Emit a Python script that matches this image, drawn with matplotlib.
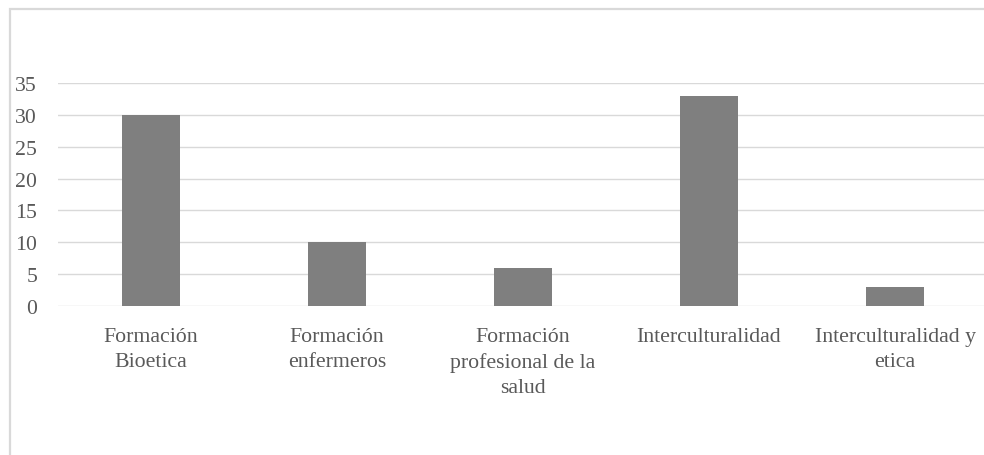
import matplotlib
matplotlib.use("Agg")
import matplotlib.pyplot as plt
from matplotlib.patches import Rectangle

categories = [
    "Formación\nBioetica",
    "Formación\nenfermeros",
    "Formación\nprofesional de la\nsalud",
    "Interculturalidad",
    "Interculturalidad y\netica",
]
values = [30, 10, 6, 33, 3]
y_ticks = [0, 5, 10, 15, 20, 25, 30, 35]

W, H, DPI = 984, 456, 100
plt.rcParams["font.family"] = ["Liberation Serif", "DejaVu Serif"]

fig = plt.figure(figsize=(W / DPI, H / DPI), dpi=DPI)
fig.patch.set_facecolor("white")

# chart frame (top and left edges fall inside the canvas)
frame = Rectangle((10 / W, -0.2), 1.2, 1.2 - 10 / H,
                  transform=fig.transFigure, fill=False,
                  edgecolor="#d9d9d9", linewidth=1.6, zorder=0)
fig.patches.append(frame)

left, right = 58 / W, 988 / W
bottom, top = 1 - 307 / H, 1 - 84 / H
ax = fig.add_axes([left, bottom, right - left, top - bottom])
ax.set_facecolor("none")

x = range(len(values))
ax.bar(x, values, width=0.31, color="#7f7f7f", zorder=3)

ax.set_xlim(-0.5, len(values) - 0.5)
ax.set_ylim(0, 35)
ax.set_yticks(y_ticks)
ax.set_xticks(list(x))
ax.set_xticklabels(categories, linespacing=1.42)
ax.grid(axis="y", color="#d9d9d9", linewidth=1.0, zorder=0)
ax.set_axisbelow(True)
for s in ax.spines.values():
    s.set_visible(False)
ax.tick_params(axis="both", length=0, labelsize=15.7, colors="#595959")
ax.tick_params(axis="y", pad=15)
ax.tick_params(axis="x", pad=15)
for lbl in ax.get_yticklabels():
    lbl.set_horizontalalignment("right")

fig.savefig("out.png", dpi=DPI)
